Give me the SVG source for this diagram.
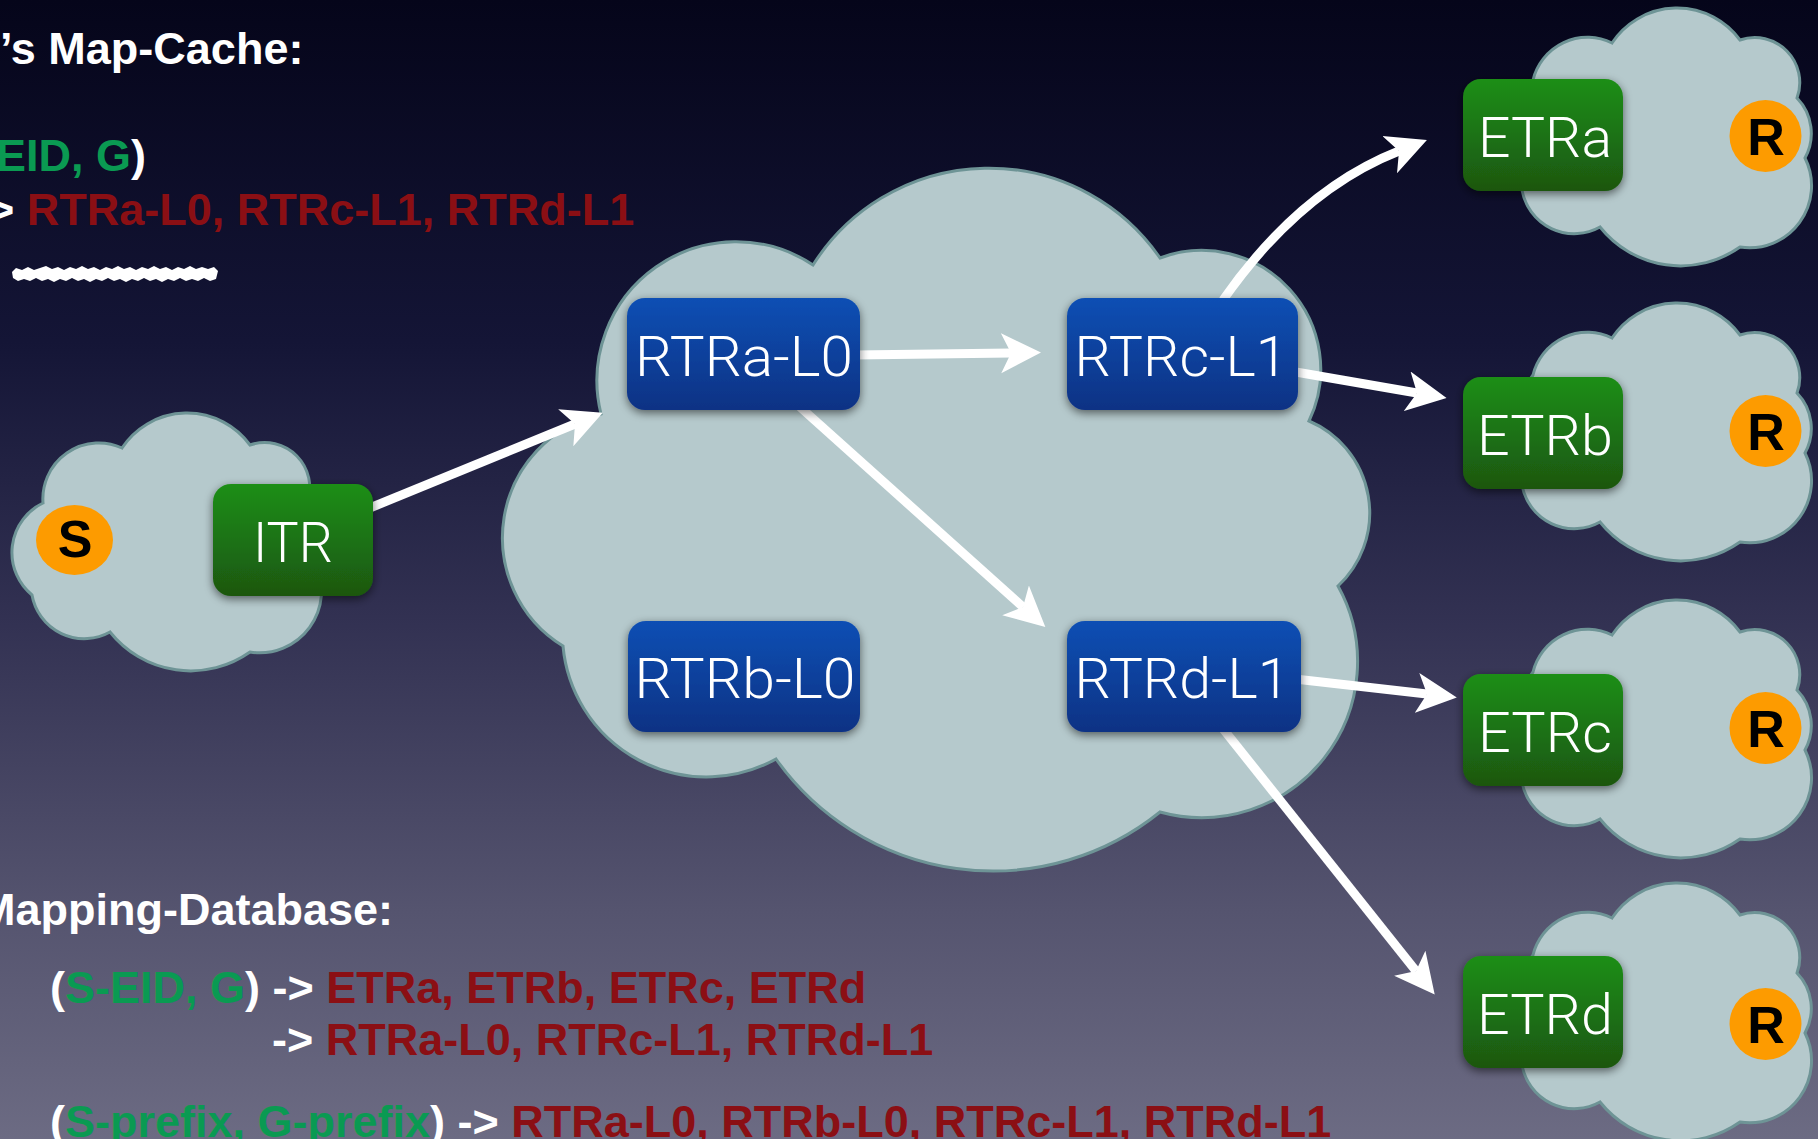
<svg xmlns="http://www.w3.org/2000/svg" width="1818" height="1139" viewBox="0 0 1818 1139">
  <defs>
    <linearGradient id="bg" x1="0" y1="0" x2="0" y2="1">
      <stop offset="0" stop-color="#05051a"/>
      <stop offset="0.3" stop-color="#141536"/>
      <stop offset="0.55" stop-color="#333253"/>
      <stop offset="0.8" stop-color="#55546f"/>
      <stop offset="1" stop-color="#6c6b83"/>
    </linearGradient>
    <linearGradient id="green" x1="0" y1="0" x2="0" y2="1">
      <stop offset="0" stop-color="#1f8e18"/>
      <stop offset="1" stop-color="#1b5610"/>
    </linearGradient>
    <linearGradient id="blue" x1="0" y1="0" x2="0" y2="1">
      <stop offset="0" stop-color="#0b4fb4"/>
      <stop offset="1" stop-color="#0b3284"/>
    </linearGradient>
    <filter id="shadow" x="-20%" y="-25%" width="140%" height="160%">
      <feGaussianBlur in="SourceAlpha" stdDeviation="5"/>
      <feOffset dy="3"/>
      <feComponentTransfer><feFuncA type="linear" slope="0.55"/></feComponentTransfer>
      <feMerge><feMergeNode/><feMergeNode in="SourceGraphic"/></feMerge>
    </filter>
    <marker id="head" viewBox="0 -21 41 42" refX="10" refY="0" markerWidth="41" markerHeight="42" markerUnits="userSpaceOnUse" orient="auto">
      <path d="M0 -20 L40 0 L0 20 L10 0 Z" fill="#ffffff"/>
    </marker>
    <!-- small site cloud, origin at its top-left -->
    <path id="cloudSmall" d="M13 72 A56 56 0 0 1 92 35 A78 78 0 0 1 220 32 A45 45 0 0 1 277 90 A51 51 0 0 1 285 150 A62 62 0 0 1 220 239 A103 103 0 0 1 80 219 A53 53 0 0 1 2 182 A109 109 0 0 1 13 72 Z"/>
    <style>
      .cloud { fill:#b5c9cc; stroke:#6e9496; stroke-width:3; }
      .link { fill:none; stroke:#ffffff; stroke-width:9; marker-end:url(#head); }
      .etr { fill:url(#green); filter:url(#shadow); }
      .rtr { fill:url(#blue); filter:url(#shadow); }
      .box-label { font-family:Roboto, "Liberation Sans", sans-serif; font-weight:300; font-size:56px; fill:#ffffff; text-anchor:middle; }
      .host { fill:#fd9b00; }
      .host-label { font-family:"Liberation Sans", Arial, sans-serif; font-weight:bold; font-size:52px; fill:#000000; text-anchor:middle; }
      .txt { font-family:"Liberation Sans", Arial, sans-serif; font-weight:bold; font-size:45px; fill:#ffffff; }
      .g { fill:#0a9a52; }
      .r { fill:#8b0f14; }
    </style>
  </defs>

  <rect x="0" y="0" width="1818" height="1139" fill="url(#bg)"/>

  <!-- text panels -->
  <g id="map-cache-text">
    <text class="txt" x="0" y="64">’s Map-Cache:</text>
    <text class="txt" x="-4" y="171"><tspan class="g">EID, G</tspan>)</text>
    <text class="txt" x="-12" y="225">&gt; <tspan class="r">RTRa-L0, RTRc-L1, RTRd-L1</tspan></text>
    <polygon fill="#ffffff" points="12,272 16,268 22,270 28,267 34,270 40,268 46,266 52,269 58,267 64,270 70,267 76,269 82,266 88,269 94,267 100,270 106,267 112,269 118,266 124,269 130,267 136,270 142,267 148,269 154,266 160,269 166,267 172,270 178,267 184,269 190,266 196,269 202,267 208,269 214,267 218,271 216,279 210,281 204,278 198,281 192,279 186,281 180,278 174,281 168,279 162,282 156,279 150,281 144,278 138,281 132,279 126,282 120,279 114,281 108,278 102,281 96,279 90,282 84,279 78,281 72,278 66,281 60,279 54,282 48,279 42,281 36,278 30,281 24,279 18,281 13,278"/>
  </g>
  <g id="mapping-db-text">
    <text class="txt" x="-22" y="925">Mapping-Database:</text>
    <text class="txt" x="50" y="1003">(<tspan class="g">S-EID, G</tspan>) -&gt; <tspan class="r">ETRa, ETRb, ETRc, ETRd</tspan></text>
    <text class="txt" x="272" y="1055">-&gt; <tspan class="r">RTRa-L0, RTRc-L1, RTRd-L1</tspan></text>
    <text class="txt" x="50" y="1137">(<tspan class="g">S-prefix, G-prefix</tspan>) -&gt; <tspan class="r">RTRa-L0, RTRb-L0, RTRc-L1, RTRd-L1</tspan></text>
  </g>

  <!-- clouds -->
  <g id="clouds">
    <path id="cloud-source" class="cloud" d="M43 503 A56 56 0 0 1 122 448 A78 78 0 0 1 250 445 A45 45 0 0 1 307 503 A51 51 0 0 1 315 563 A62 62 0 0 1 250 652 A103 103 0 0 1 110 632 A53 53 0 0 1 32 595 A55 55 0 0 1 43 503 Z"/>
    <path id="cloud-core" class="cloud" d="M601 414 A139 139 0 0 1 813 265 A208 208 0 0 1 1160 258 A119 119 0 0 1 1309 421 A100 100 0 0 1 1338 586 A156 156 0 0 1 1160 812 A266 266 0 0 1 776 759 A144 144 0 0 1 563 646 A127 127 0 0 1 601 414 Z"/>
    <use id="cloud-a" class="cloud" href="#cloudSmall" x="1520" y="8"/>
    <use id="cloud-b" class="cloud" href="#cloudSmall" x="1520" y="303"/>
    <use id="cloud-c" class="cloud" href="#cloudSmall" x="1520" y="600"/>
    <use id="cloud-d" class="cloud" href="#cloudSmall" x="1520" y="883"/>
  </g>

  <!-- connectors -->
  <g id="connectors">
    <path class="link" d="M365 510 L575 424"/>
    <path class="link" d="M855 355 L1011 353"/>
    <path class="link" d="M800 407 L1023 607"/>
    <path class="link" d="M1223 300 Q1300 190 1399 151"/>
    <path class="link" d="M1290 371 L1417 393"/>
    <path class="link" d="M1295 679 L1427 694"/>
    <path class="link" d="M1220 725 L1416 971"/>
  </g>

  <!-- hosts -->
  <g id="S">
    <ellipse class="host" cx="74.5" cy="540" rx="38.5" ry="35"/>
    <text class="host-label" x="75" y="557">S</text>
  </g>
  <g id="R-a">
    <circle class="host" cx="1765.5" cy="136" r="36"/>
    <text class="host-label" x="1766" y="155">R</text>
  </g>
  <g id="R-b">
    <circle class="host" cx="1765.5" cy="431" r="36"/>
    <text class="host-label" x="1766" y="450">R</text>
  </g>
  <g id="R-c">
    <circle class="host" cx="1765.5" cy="728" r="36"/>
    <text class="host-label" x="1766" y="747">R</text>
  </g>
  <g id="R-d">
    <circle class="host" cx="1765.5" cy="1024" r="36"/>
    <text class="host-label" x="1766" y="1043">R</text>
  </g>

  <!-- tunnel routers -->
  <g id="ITR">
    <rect class="etr" x="213" y="484" width="160" height="112" rx="18"/>
    <text class="box-label" x="293" y="562" textLength="80" lengthAdjust="spacingAndGlyphs">ITR</text>
  </g>
  <g id="ETRa">
    <rect class="etr" x="1463" y="79" width="160" height="112" rx="18"/>
    <text class="box-label" x="1545" y="157" textLength="134" lengthAdjust="spacingAndGlyphs">ETRa</text>
  </g>
  <g id="ETRb">
    <rect class="etr" x="1463" y="377" width="160" height="112" rx="18"/>
    <text class="box-label" x="1545" y="455" textLength="136" lengthAdjust="spacingAndGlyphs">ETRb</text>
  </g>
  <g id="ETRc">
    <rect class="etr" x="1463" y="674" width="160" height="112" rx="18"/>
    <text class="box-label" x="1545" y="752" textLength="134" lengthAdjust="spacingAndGlyphs">ETRc</text>
  </g>
  <g id="ETRd">
    <rect class="etr" x="1463" y="956" width="160" height="112" rx="18"/>
    <text class="box-label" x="1545" y="1034" textLength="136" lengthAdjust="spacingAndGlyphs">ETRd</text>
  </g>
  <g id="RTRa-L0">
    <rect class="rtr" x="627" y="298" width="233" height="112" rx="18"/>
    <text class="box-label" x="744" y="376" textLength="218" lengthAdjust="spacingAndGlyphs">RTRa-L0</text>
  </g>
  <g id="RTRc-L1">
    <rect class="rtr" x="1067" y="298" width="231" height="112" rx="18"/>
    <text class="box-label" x="1181" y="376" textLength="213" lengthAdjust="spacingAndGlyphs">RTRc-L1</text>
  </g>
  <g id="RTRb-L0">
    <rect class="rtr" x="628" y="621" width="232" height="111" rx="18"/>
    <text class="box-label" x="745" y="698" textLength="221" lengthAdjust="spacingAndGlyphs">RTRb-L0</text>
  </g>
  <g id="RTRd-L1">
    <rect class="rtr" x="1067" y="621" width="234" height="111" rx="18"/>
    <text class="box-label" x="1182" y="698" textLength="215" lengthAdjust="spacingAndGlyphs">RTRd-L1</text>
  </g>
</svg>
